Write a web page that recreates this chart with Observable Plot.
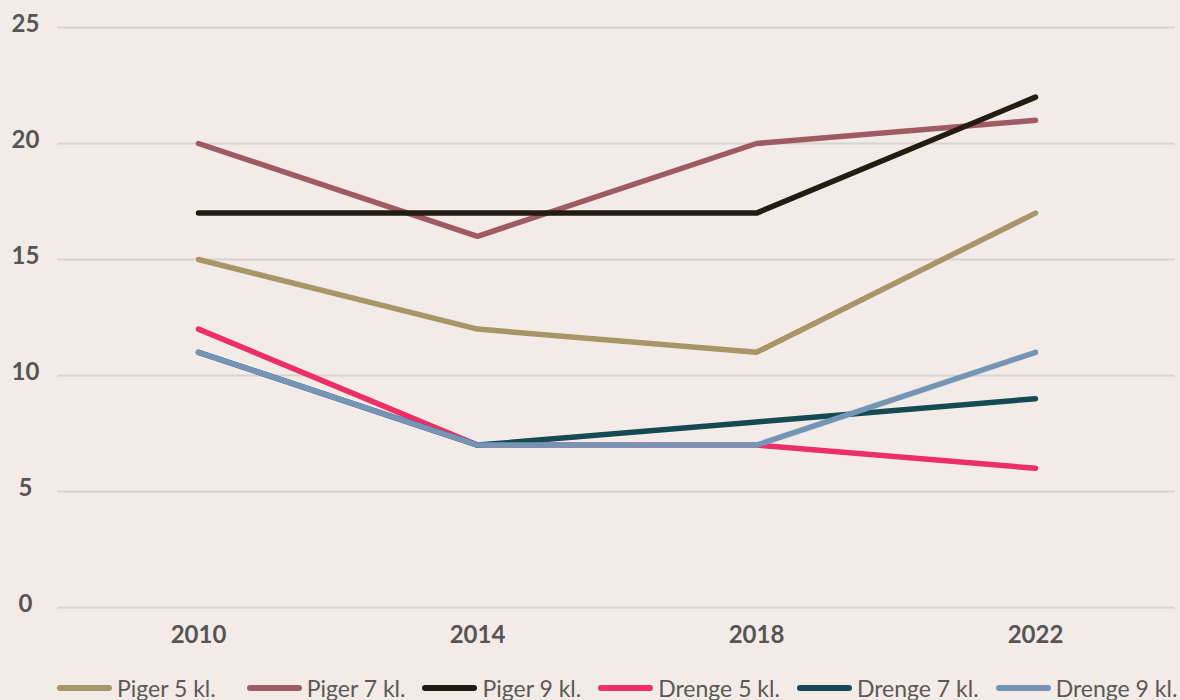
<!DOCTYPE html>
<html>
<head>
<meta charset="utf-8">
<script src="https://cdn.jsdelivr.net/npm/d3@7"></script>
<script src="https://cdn.jsdelivr.net/npm/@observablehq/plot@0.6"></script>
<style>
  html, body { margin: 0; padding: 0; background: #f3ebe7; width: 1180px; height: 700px; overflow: hidden; }
  #chart { position: absolute; left: 0; top: 0; }
  #legend { position: absolute; left: 57px; top: 674px; display: flex; align-items: center; gap: 17px;
    font-family: Lato, sans-serif; font-size: 23px; color: #595959; white-space: nowrap; }
  .item { display: flex; align-items: center; gap: 5px; }
  .item:first-child { margin-right: 14px; }
  .sw { width: 55px; height: 6px; border-radius: 3px; }
</style>
</head>
<body>
<div id="chart"></div>
<div id="legend"></div>
<script>
const years = ["2010", "2014", "2018", "2022"];
const seriesNames = ["Piger 5 kl.", "Piger 7 kl.", "Piger 9 kl.", "Drenge 5 kl.", "Drenge 7 kl.", "Drenge 9 kl."];
const colors = ["#a89668", "#9e5b62", "#231c10", "#ee2e68", "#154a52", "#7595b5"];
const piger5 = [15, 12, 11, 17];
const piger7 = [20, 16, 20, 21];
const piger9 = [17, 17, 17, 22];
const drenge5 = [12, 7, 7, 6];
const drenge7 = [11, 7, 8, 9];
const drenge9 = [11, 7, 7, 11];
const yTicks = [0, 5, 10, 15, 20, 25];

const allValues = [piger5, piger7, piger9, drenge5, drenge7, drenge9];
const data = [];
seriesNames.forEach((s, i) => years.forEach((y, j) => data.push({series: s, year: y, value: allValues[i][j]})));

const chart = Plot.plot({
  width: 1180,
  height: 660,
  marginLeft: 57,
  marginRight: 5,
  marginTop: 27,
  marginBottom: 53,
  style: {background: "transparent", fontFamily: "Lato, sans-serif", color: "#555"},
  x: {type: "point", domain: years, padding: 0.5, label: null},
  y: {domain: [0, 25], label: null},
  color: {domain: seriesNames, range: colors},
  marks: [
    Plot.ruleY(yTicks, {stroke: "#d6d3d0", strokeWidth: 2}),
    Plot.axisY(yTicks, {tickSize: 0, tickPadding: 32, textAnchor: "middle", fontSize: 24, fontWeight: 700, fill: "#555", dy: -3, label: null}),
    Plot.axisX({tickSize: 0, tickPadding: 18, fontSize: 24, fontWeight: 700, fill: "#555", label: null}),
    Plot.line(data, {x: "year", y: "value", z: "series", stroke: "series", strokeWidth: 5.5, strokeLinejoin: "miter", strokeLinecap: "round"})
  ]
});
document.getElementById("chart").appendChild(chart);

const legend = document.getElementById("legend");
seriesNames.forEach((s, i) => {
  const it = document.createElement("div");
  it.className = "item";
  const sw = document.createElement("div");
  sw.className = "sw";
  sw.style.background = colors[i];
  const t = document.createElement("span");
  t.textContent = s;
  it.appendChild(sw);
  it.appendChild(t);
  legend.appendChild(it);
});
</script>
</body>
</html>
